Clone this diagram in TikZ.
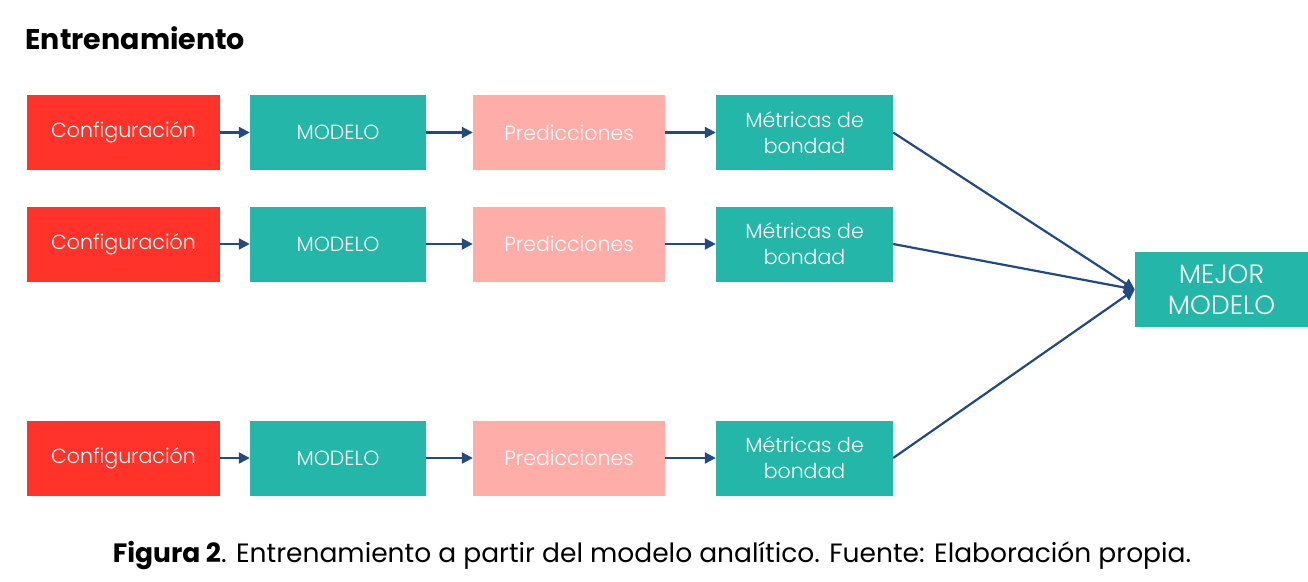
\documentclass[tikz,border=0pt]{standalone}
\usepackage{fontspec}
\setmainfont{Poppins}
\newfontfamily\boxfont{Poppins Light}
\usepackage{tikz}
\usetikzlibrary{arrows.meta}

\definecolor{cfgred}{RGB}{255,51,41}
\definecolor{modteal}{RGB}{37,182,170}
\definecolor{predpink}{RGB}{255,173,168}
\definecolor{edgeblue}{RGB}{34,74,128}

\tikzset{
  Box/.style={draw=none, text=white, align=center, inner sep=0pt,
    font=\boxfont\fontsize{20.5}{26}\selectfont},
  CfgBox/.style={Box, fill=cfgred, minimum width=193pt, minimum height=75pt},
  ModBox/.style={Box, fill=modteal, minimum width=176pt, minimum height=75pt},
  PredBox/.style={Box, fill=predpink, minimum width=192pt, minimum height=75pt},
  MetBox/.style={Box, fill=modteal, minimum width=177pt, minimum height=75pt},
  EdgeStyle/.style={draw=edgeblue, line width=2.2pt, -{Triangle[length=11pt,width=11pt]}}
}

\begin{document}
\begin{tikzpicture}[x=1pt,y=-1pt]
\useasboundingbox (0,0) rectangle (1308,581);

\node[anchor=west, font=\fontsize{28.5}{32}\selectfont\bfseries] (title) at (22,38) {Entrenamiento};

\node[CfgBox] (c0) at (123.5,132.5) {Configuración};
\node[ModBox] (m0) at (338,132.5) {MODELO};
\node[PredBox] (p0) at (569,132.5) {Predicciones};
\node[MetBox] (b0) at (804.5,132.5) {Métricas de\\bondad};

\node[CfgBox] (c1) at (123.5,244) {Configuración};
\node[ModBox] (m1) at (338,244) {MODELO};
\node[PredBox] (p1) at (569,244) {Predicciones};
\node[MetBox] (b1) at (804.5,244) {Métricas de\\bondad};

\node[CfgBox] (c2) at (123.5,458) {Configuración};
\node[ModBox] (m2) at (338,458) {MODELO};
\node[PredBox] (p2) at (569,458) {Predicciones};
\node[MetBox] (b2) at (804.5,458) {Métricas de\\bondad};

\node[Box, fill=modteal, minimum width=173pt, minimum height=75pt,
  font=\boxfont\fontsize{26.5}{31}\selectfont] (best) at (1221.5,289.5) {MEJOR\\MODELO};

\coordinate (in) at (best.west);

\draw[EdgeStyle] (c0) -- (m0);
\draw[EdgeStyle] (m0) -- (p0);
\draw[EdgeStyle] (p0) -- (b0);
\draw[EdgeStyle] (c1) -- (m1);
\draw[EdgeStyle] (m1) -- (p1);
\draw[EdgeStyle] (p1) -- (b1);
\draw[EdgeStyle] (c2) -- (m2);
\draw[EdgeStyle] (m2) -- (p2);
\draw[EdgeStyle] (p2) -- (b2);
\draw[EdgeStyle] (b0.east) -- (in);
\draw[EdgeStyle] (b1.east) -- (in);
\draw[EdgeStyle] (b2.east) -- (in);

\node[font=\fontsize{26.5}{30}\selectfont] (caption) at (652,556)
  {\textbf{Figura 2}. Entrenamiento a partir del modelo analítico. Fuente: Elaboración propia.};
\end{tikzpicture}
\end{document}
